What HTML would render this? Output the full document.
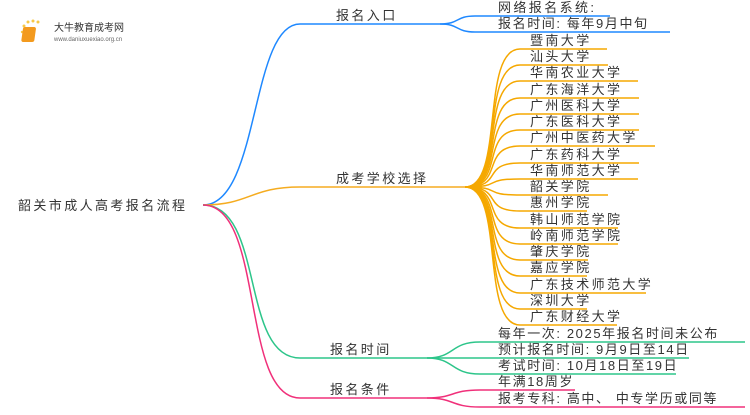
<!DOCTYPE html>
<html><head><meta charset="utf-8"><style>
body{margin:0;background:#fff;width:750px;height:410px;overflow:hidden}
text{font-family:"Liberation Sans","Noto Sans CJK SC",sans-serif;fill:#333;font-size:13px;letter-spacing:2.4px}
.d{letter-spacing:1.6px}
</style></head><body>
<svg width="750" height="410" viewBox="0 0 750 410" xmlns="http://www.w3.org/2000/svg">
<g fill="none" stroke-width="1.5">
<path d="M203 205 C260 205 250 24 300 24 H440" stroke="#1e88ff"/>
<path d="M440 24 C460 24 455 16 475 16 H610" stroke="#1e88ff"/>
<path d="M440 24 C460 24 455 32 475 32 H670" stroke="#1e88ff"/>
<path d="M203 205 C250 205 250 187 300 187 H465" stroke="#f5ac20"/>
<g stroke="#f5a800">
<path d="M465 187 C505 187 480 49 520 49 H607"/>
<path d="M465 187 C505 187 480 65 520 65 H608"/>
<path d="M465 187 C505 187 480 81 520 81 H638"/>
<path d="M465 187 C505 187 480 98 520 98 H639"/>
<path d="M465 187 C505 187 480 114 520 114 H639"/>
<path d="M465 187 C505 187 480 130 520 130 H639"/>
<path d="M465 187 C505 187 480 146 520 146 H655"/>
<path d="M465 187 C505 187 480 163 520 163 H639"/>
<path d="M465 187 C505 187 480 179 520 179 H638"/>
<path d="M465 187 C505 187 480 195 520 195 H608"/>
<path d="M465 187 C505 187 480 211 520 211 H587"/>
<path d="M465 187 C505 187 480 228 520 228 H618"/>
<path d="M465 187 C505 187 480 244 520 244 H618"/>
<path d="M465 187 C505 187 480 260 520 260 H588"/>
<path d="M465 187 C505 187 480 276 520 276 H587"/>
<path d="M465 187 C505 187 480 293 520 293 H646"/>
<path d="M465 187 C505 187 480 309 520 309 H587"/>
<path d="M465 187 C505 187 480 325 520 325 H617"/>
</g>
<path d="M203 205 C265 205 240 358 300 358 H427" stroke="#2dc58a"/>
<path d="M427 358 C455 358 450 342 480 342 H745" stroke="#2dc58a"/>
<path d="M427 358 H689" stroke="#2dc58a"/>
<path d="M427 358 C455 358 450 374 480 374 H676" stroke="#2dc58a"/>
<path d="M203 205 C265 205 240 398 300 398 H427" stroke="#f0307a"/>
<path d="M427 398 C455 398 450 390 480 390 H575" stroke="#f0307a"/>
<path d="M427 398 C455 398 450 407 480 407 H745" stroke="#f0307a"/>
</g>
<text x="18" y="210">韶关市成人高考报名流程</text>
<text x="336" y="20">报名入口</text>
<text x="336" y="183">成考学校选择</text>
<text x="330" y="354">报名时间</text>
<text x="330" y="394">报名条件</text>
<text x="498" y="12">网络报名系统:</text>
<text x="498" y="28" class="d">报名时间: 每年9月中旬</text>
<g>
<text x="530" y="45">暨南大学</text>
<text x="530" y="61">汕头大学</text>
<text x="530" y="77">华南农业大学</text>
<text x="530" y="94">广东海洋大学</text>
<text x="530" y="110">广州医科大学</text>
<text x="530" y="126">广东医科大学</text>
<text x="530" y="142">广州中医药大学</text>
<text x="530" y="159">广东药科大学</text>
<text x="530" y="175">华南师范大学</text>
<text x="530" y="191">韶关学院</text>
<text x="530" y="207">惠州学院</text>
<text x="530" y="224">韩山师范学院</text>
<text x="530" y="240">岭南师范学院</text>
<text x="530" y="256">肇庆学院</text>
<text x="530" y="272">嘉应学院</text>
<text x="530" y="289">广东技术师范大学</text>
<text x="530" y="305">深圳大学</text>
<text x="530" y="321">广东财经大学</text>
</g>
<text x="498" y="338" class="d">每年一次: 2025年报名时间未公布</text>
<text x="498" y="354" class="d">预计报名时间: 9月9日至14日</text>
<text x="498" y="370" class="d">考试时间: 10月18日至19日</text>
<text x="498" y="386" class="d">年满18周岁</text>
<text x="498" y="403" class="d">报考专科: 高中、 中专学历或同等</text>
<g>
<circle cx="24" cy="26" r="1.5" fill="#f7c948"/><circle cx="28" cy="22" r="1.5" fill="#f7c948"/><circle cx="33" cy="21" r="1.5" fill="#f7c948"/><circle cx="38" cy="22" r="1.5" fill="#f7c948"/><circle cx="22" cy="32" r="1.2" fill="#f7c948"/>
<rect x="27" y="27" width="13" height="15" rx="2" fill="#f39a1e" transform="skewX(-8)"/>
<text x="54" y="31" style="font-size:10px;letter-spacing:0">大牛教育成考网</text>
<text x="54" y="41" style="font-size:6px;letter-spacing:0;fill:#666">www.daniuxuexiao.org.cn</text>
</g>
</svg>
</body></html>
